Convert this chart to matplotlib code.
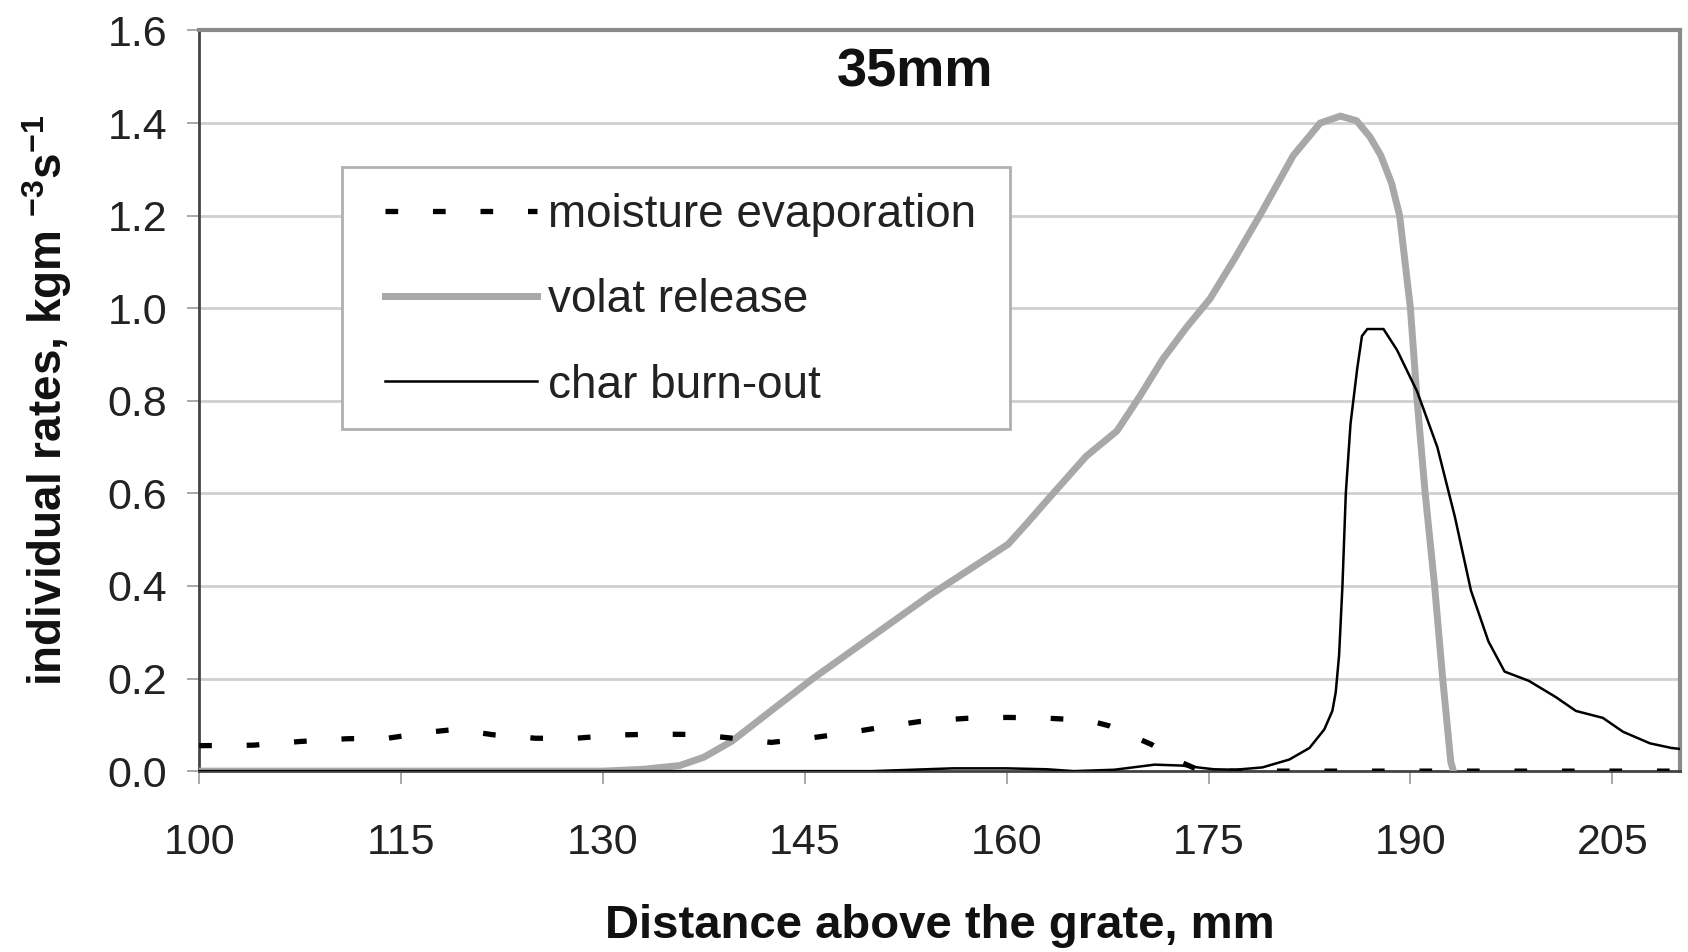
import matplotlib
matplotlib.use("Agg")
import matplotlib.pyplot as plt
from matplotlib.patches import Rectangle

plt.rcParams['font.family'] = ['Liberation Sans', 'DejaVu Sans']
plt.rcParams['mathtext.fontset'] = 'custom'
plt.rcParams['mathtext.rm'] = 'Liberation Sans'
plt.rcParams['mathtext.bf'] = 'Liberation Sans:bold'

# moisture evaporation (dashed black)
moist_x = [100, 104, 107.5, 111, 114, 117, 119, 122, 125, 128, 131, 134, 137, 140,
           142.5, 145.3, 148, 151, 153.5, 157, 160, 162.5, 166, 167.6, 169, 170.8,
           172.8, 174, 175, 180, 190, 200, 210]
moist_y = [0.055, 0.056, 0.064, 0.07, 0.071, 0.084, 0.09, 0.078, 0.071, 0.071, 0.078,
           0.08, 0.079, 0.07, 0.062, 0.071, 0.082, 0.096, 0.107, 0.114, 0.116, 0.115,
           0.11, 0.098, 0.08, 0.057, 0.021, 0.006, 0, 0, 0, 0, 0]

# volatile release (thick grey)
volat_x = [100, 130, 133, 135.7, 137.5, 139.6, 142.7, 145.6, 148.5, 151.4, 154.3,
           157.2, 160.1, 161.5, 163, 165.9, 168.2, 169.9, 171.6, 173.4, 175.1, 177,
           179, 181.3, 183.3, 184.8, 186, 187, 187.8, 188.6, 189.2, 190.0, 190.5,
           191.1, 191.8, 192.4, 193.0, 193.2]
volat_y = [0, 0, 0.004, 0.012, 0.03, 0.065, 0.135, 0.2, 0.26, 0.32, 0.38, 0.435, 0.49,
           0.535, 0.585, 0.68, 0.735, 0.81, 0.89, 0.96, 1.02, 1.11, 1.21, 1.33, 1.40,
           1.415, 1.405, 1.37, 1.33, 1.27, 1.2, 1.0, 0.8, 0.6, 0.4, 0.2, 0.02, 0]

# char burn-out (thin black)
char_x = [100, 150, 153, 156, 160, 163, 165, 168, 171, 173, 175.4, 177, 179, 181,
          182.5, 183.6, 184.2, 184.45, 184.7, 184.95, 185.2, 185.55, 186.05, 186.4,
          186.8, 188, 189, 190.5, 192, 193.3, 194.5, 195.8, 197, 198.8, 200.8, 202.3,
          204.3, 205.8, 207.8, 209.4, 210]
char_y = [0, 0, 0.003, 0.006, 0.006, 0.004, 0.0, 0.003, 0.014, 0.012, 0.004, 0.003,
          0.008, 0.025, 0.05, 0.09, 0.13, 0.17, 0.25, 0.4, 0.6, 0.75, 0.87, 0.94,
          0.955, 0.955, 0.91, 0.82, 0.70, 0.55, 0.39, 0.28, 0.215, 0.195, 0.16, 0.13,
          0.115, 0.085, 0.06, 0.05, 0.048]

x_ticks = [100, 115, 130, 145, 160, 175, 190, 205]
y_ticks = [0.0, 0.2, 0.4, 0.6, 0.8, 1.0, 1.2, 1.4, 1.6]

fig = plt.figure(figsize=(16.88, 9.52), dpi=100)
ax = fig.add_axes([0.118, 0.19, 0.877, 0.778])

ax.plot(moist_x, moist_y, color='black', lw=3.8, linestyle=(0, (2.4, 6.6)),
        label='moisture evaporation', zorder=4)
ax.plot(volat_x, volat_y, color='#a8a8a8', lw=5, label='volat release', zorder=3)
ax.plot(char_x, char_y, color='black', lw=1.8, label='char burn-out', zorder=4)

ax.set_xlim(100, 210)
ax.set_ylim(0, 1.6)
ax.set_xticks(x_ticks)
ax.set_yticks(y_ticks)
ax.set_yticklabels(['%.1f' % v for v in y_ticks])
ax.tick_params(axis='both', labelsize=31, colors='#222222', length=9, width=1.2,
               direction='out')
ax.tick_params(axis='both', color='#999999')
ax.tick_params(axis='x', pad=28)
ax.tick_params(axis='y', pad=14)

ax.yaxis.grid(True, color='#cfcfcf', lw=2)
ax.set_axisbelow(True)

for s in ['left', 'bottom']:
    ax.spines[s].set_color('#444444')
    ax.spines[s].set_linewidth(2)
for s in ['top', 'right']:
    ax.spines[s].set_color('#8a8a8a')
    ax.spines[s].set_linewidth(3)

ax.text(153.2, 1.51, '35mm', fontsize=39, fontweight='bold', ha='center',
        va='center', color='#111111')

ax.set_xlabel('Distance above the grate, mm', fontsize=34, fontweight='bold',
              labelpad=30, color='#111111')
ax.set_ylabel(r'individual rates, kgm $^{\mathbf{-3}}$s$^{\mathbf{-1}}$', fontsize=33,
              fontweight='bold', labelpad=24, color='#111111')

# legend box drawn separately so the padding matches the original
box = Rectangle((0.0967, 0.4622), 0.4509, 0.3532, transform=ax.transAxes,
                facecolor='white', edgecolor='#b0b0b0', lw=2, zorder=2.6)
ax.add_patch(box)
leg = ax.legend(loc='upper left', bbox_to_anchor=(0.1258, 0.7805), borderaxespad=0,
                borderpad=0, frameon=False, fontsize=33, handlelength=3.3,
                handletextpad=0.25, labelspacing=0.9)
leg.set_zorder(5)
for t in leg.get_texts():
    t.set_color('#222222')

fig.savefig('out.png', dpi=100)
